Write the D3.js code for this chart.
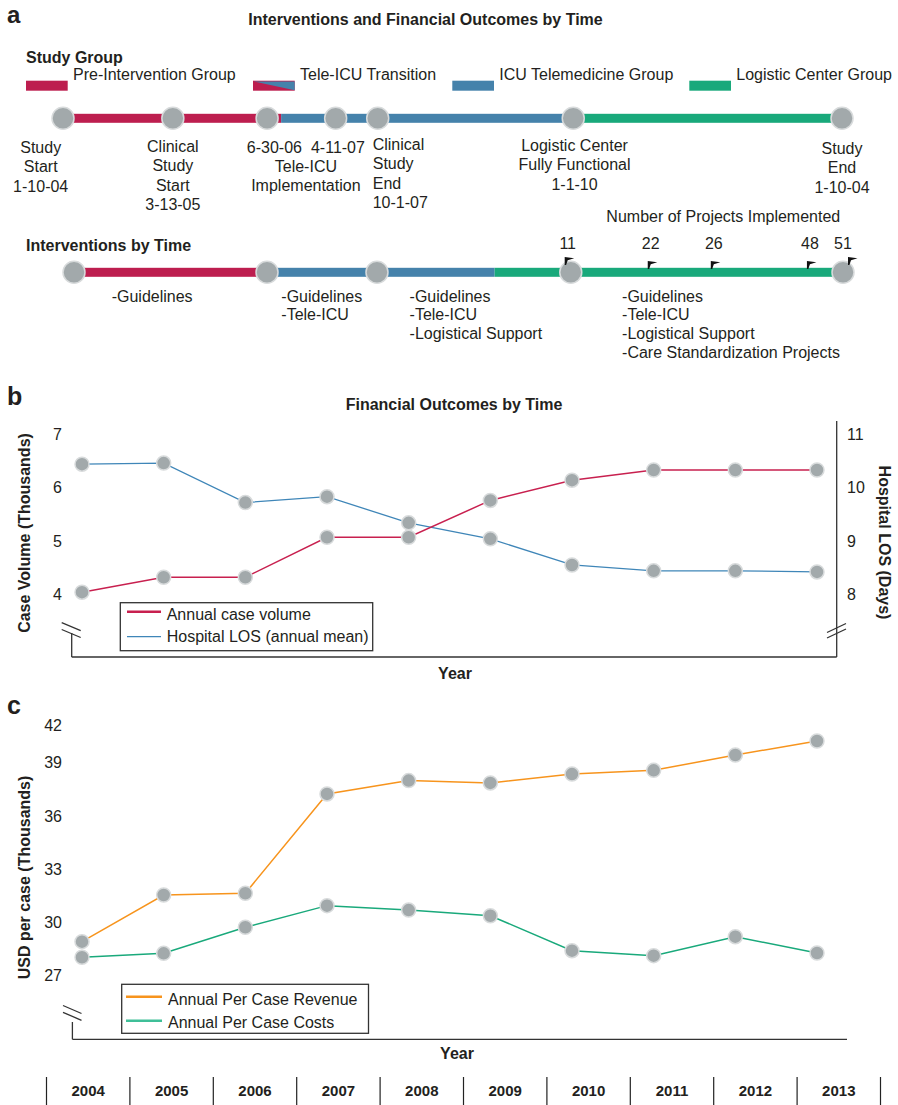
<!DOCTYPE html>
<html><head><meta charset="utf-8">
<script src="https://cdn.jsdelivr.net/npm/d3@7"></script>
<style>
body{margin:0;background:#fff}
svg{display:block;font-family:"Liberation Sans",Arial,Helvetica,sans-serif}
</style></head><body>
<svg id="chart" width="898" height="1105"></svg>
<script>
// ---------------- DATA ----------------
const years = [2004, 2005, 2006, 2007, 2008, 2009, 2010, 2011, 2012, 2013];
const caseVolume = [4.04, 4.32, 4.32, 5.07, 5.07, 5.76, 6.14, 6.33, 6.33, 6.33];   // thousands
const hospitalLOS = [10.44, 10.46, 9.72, 9.83, 9.34, 9.04, 8.55, 8.44, 8.44, 8.42]; // days
const revenue = [28.91, 31.54, 31.64, 37.24, 37.99, 37.86, 38.36, 38.57, 39.61, 40.73]; // USD thousands
const costs = [28.03, 28.25, 29.72, 30.94, 30.69, 30.37, 28.40, 28.12, 29.19, 28.27];
const caseTicks = [4, 5, 6, 7];
const losTicks = [8, 9, 10, 11];
const usdTicks = [27, 30, 33, 36, 39, 42];

const groups = ["Pre-Intervention Group", "Tele-ICU Transition", "ICU Telemedicine Group", "Logistic Center Group"];
// schematic position along the study timeline (0 = start, 100 = end)
const milestonePos = [0, 14.1, 26.2, 35.0, 40.4, 65.5, 100];
const milestoneLabels = [
  ["Study", "Start", "1-10-04"],
  ["Clinical", "Study", "Start", "3-13-05"],
  ["6-30-06"],
  ["4-11-07"],
  ["Clinical", "Study", "End", "10-1-07"],
  ["Logistic Center", "Fully Functional", "1-1-10"],
  ["Study", "End", "1-10-04"]
];
const implementationCaption = ["Tele-ICU", "Implementation"];
const studyPhaseBreaks = [0, 28.0, 65.5, 100];
const studyPhaseGroup = [0, 2, 3];

const interventionNodes = [0, 25.1, 39.4, 64.6, 100];
const interventionPhaseBreaks = [0, 25.1, 54.7, 100];
const interventionPhaseGroup = [0, 2, 3];
const interventionLists = [
  ["-Guidelines"],
  ["-Guidelines", "-Tele-ICU"],
  ["-Guidelines", "-Tele-ICU", "-Logistical Support"],
  ["-Guidelines", "-Tele-ICU", "-Logistical Support", "-Care Standardization Projects"]
];
const projectCounts = [11, 22, 26, 48, 51];
const projectPos = [64.2, 75.0, 83.2, 95.7, 100];

// ---------------- STYLE ----------------
const ink = "#231f20";
const RED = "#bd1e4f", BLUE = "#4582ab", GREEN = "#19a97b", ORANGE = "#f7941d";
const LINE_RED = "#c8204f", LINE_BLUE = "#3f86b8";
const groupColors = [RED, null, BLUE, GREEN];
const DOT = "#a2a9ab", DOT_STROKE = "#d8dbdc";

const svg = d3.select("#chart");
function txt(g, x, y, s, o = {}) {
  return g.append("text").attr("x", x).attr("y", y).text(s)
    .attr("font-size", o.size || 16)
    .attr("font-weight", o.bold ? "bold" : "normal")
    .attr("text-anchor", o.anchor || "start")
    .attr("fill", ink);
}

// ================= PANEL A =================
const A = svg.append("g");
txt(A, 7, 23, "a", {size: 24, bold: true});
txt(A, 425.5, 24.5, "Interventions and Financial Outcomes by Time", {bold: true, anchor: "middle"});
txt(A, 26, 63, "Study Group", {bold: true});

// legend
const legX = [26, 253, 452.3, 689.3];
groups.forEach((gname, i) => {
  const x = legX[i];
  if (i === 1) {
    A.append("rect").attr("x", x).attr("y", 80.7).attr("width", 41.7).attr("height", 10).attr("fill", RED);
    A.append("polygon").attr("points", `${x + 1},81.5 ${x + 41.7},81.5 ${x + 41.7},90.2`).attr("fill", BLUE);
  } else {
    A.append("rect").attr("x", x).attr("y", 80.7).attr("width", 41.7).attr("height", 10).attr("fill", groupColors[i]);
  }
  txt(A, x + 47, 79.8, gname);
});

// timeline 1
const xT1 = d3.scaleLinear().domain([0, 100]).range([63, 842]);
const T1Y = 118.3, BAR_H = 9, R_A = 11;
studyPhaseGroup.forEach((g, i) => {
  A.append("rect").attr("x", xT1(studyPhaseBreaks[i])).attr("y", T1Y - BAR_H / 2)
    .attr("width", xT1(studyPhaseBreaks[i + 1]) - xT1(studyPhaseBreaks[i])).attr("height", BAR_H)
    .attr("fill", groupColors[g]);
});
A.selectAll("circle.m1").data(milestonePos).join("circle")
  .attr("cx", d => xT1(d)).attr("cy", T1Y).attr("r", R_A)
  .attr("fill", DOT).attr("stroke", DOT_STROKE).attr("stroke-width", 1.5);

const msLayout = [
  {dx: -22.3, y: 153, a: "middle"},
  {dx: 0, y: 152, a: "middle"},
  {dx: 7.3, y: 153, a: "middle"},
  {dx: 2.3, y: 153, a: "middle"},
  {dx: -5, y: 150, a: "start"},
  {dx: 1.3, y: 151, a: "middle"},
  {dx: 0, y: 154, a: "middle"}
];
const LH = 19.3;
milestoneLabels.forEach((lines, i) => {
  const L = msLayout[i];
  lines.forEach((s, j) => txt(A, xT1(milestonePos[i]) + L.dx, L.y + j * LH, s, {anchor: L.a}));
});
implementationCaption.forEach((s, j) =>
  txt(A, (xT1(milestonePos[2]) + xT1(milestonePos[3])) / 2 + 4.5, 171.8 + j * LH, s, {anchor: "middle"}));

// timeline 2
txt(A, 26, 251, "Interventions by Time", {bold: true});
const xT2 = d3.scaleLinear().domain([0, 100]).range([74, 843]);
const T2Y = 272.3;
interventionPhaseGroup.forEach((g, i) => {
  A.append("rect").attr("x", xT2(interventionPhaseBreaks[i])).attr("y", T2Y - BAR_H / 2)
    .attr("width", xT2(interventionPhaseBreaks[i + 1]) - xT2(interventionPhaseBreaks[i])).attr("height", BAR_H)
    .attr("fill", groupColors[g]);
});
A.selectAll("circle.m2").data(interventionNodes).join("circle")
  .attr("cx", d => xT2(d)).attr("cy", T2Y).attr("r", R_A)
  .attr("fill", DOT).attr("stroke", DOT_STROKE).attr("stroke-width", 1.5);

const intDx = [37.7, 14.3, 32.6, 51.3];
interventionLists.forEach((lines, i) => {
  lines.forEach((s, j) => txt(A, xT2(interventionNodes[i]) + intDx[i], 301.5 + j * 18.8, s));
});

txt(A, 723.3, 221.5, "Number of Projects Implemented", {anchor: "middle"});
projectCounts.forEach((n, i) => {
  const x = xT2(projectPos[i]);
  txt(A, x, 249, String(n), {anchor: "middle"});
  const nearNode = interventionNodes.some(p => Math.abs(xT2(p) - x) < 12);
  const fy = nearNode ? 257 : 261;
  const fx = x - 3 + (i === projectCounts.length - 1 ? 8 : 0);
  A.append("path")
    .attr("d", `M${fx},${fy + 8} L${fx},${fy} L${fx + 9.5},${fy + 1.2} L${fx + 3},${fy + 3.2} L${fx + 1.4},${fy + 8} Z`)
    .attr("fill", "#111");
});

// ================= PANEL B =================
const B = svg.append("g");
txt(B, 7, 405, "b", {size: 25, bold: true});
txt(B, 454, 409.8, "Financial Outcomes by Time", {bold: true, anchor: "middle"});

const x = d3.scalePoint().domain(years).range([82, 817]);
const yCase = d3.scaleLinear().domain([4, 7]).range([594.3, 434.3]);
const yLOS = d3.scaleLinear().domain([8, 11]).range([594.3, 434.3]);

caseTicks.forEach(t => txt(B, 62, yCase(t) + 5.7, String(t), {anchor: "end"}));
losTicks.forEach(t => txt(B, 847, yLOS(t) + 5.7, String(t)));

const axisCol = "#333";
// bottom axis
B.append("line").attr("x1", 71.7).attr("x2", 836.7).attr("y1", 657).attr("y2", 657).attr("stroke", axisCol).attr("stroke-width", 1.3);
B.append("line").attr("x1", 71.7).attr("x2", 71.7).attr("y1", 633).attr("y2", 657).attr("stroke", axisCol).attr("stroke-width", 1.3);
B.append("line").attr("x1", 61.7).attr("x2", 80.7).attr("y1", 622.7).attr("y2", 630.7).attr("stroke", axisCol).attr("stroke-width", 1.3);
B.append("line").attr("x1", 61.7).attr("x2", 80.7).attr("y1", 629.5).attr("y2", 637.5).attr("stroke", axisCol).attr("stroke-width", 1.3);
// right axis
B.append("line").attr("x1", 836.7).attr("x2", 836.7).attr("y1", 421).attr("y2", 657).attr("stroke", axisCol).attr("stroke-width", 1.3);
B.append("line").attr("x1", 827).attr("x2", 846).attr("y1", 632.5).attr("y2", 623.5).attr("stroke", axisCol).attr("stroke-width", 1.3);
B.append("line").attr("x1", 827).attr("x2", 846).attr("y1", 638).attr("y2", 629).attr("stroke", axisCol).attr("stroke-width", 1.3);

txt(B, 0, 0, "Case Volume (Thousands)", {bold: true, anchor: "middle"}).attr("transform", "translate(30,533) rotate(-90)");
txt(B, 0, 0, "Hospital LOS (Days)", {bold: true, anchor: "middle"}).attr("transform", "translate(879,542.5) rotate(90)");
txt(B, 455, 678.5, "Year", {bold: true, anchor: "middle"});

const lineB1 = d3.line().x((d, i) => x(years[i])).y(d => yCase(d));
const lineB2 = d3.line().x((d, i) => x(years[i])).y(d => yLOS(d));
B.append("path").attr("d", lineB2(hospitalLOS)).attr("fill", "none").attr("stroke", LINE_BLUE).attr("stroke-width", 1.3);
B.append("path").attr("d", lineB1(caseVolume)).attr("fill", "none").attr("stroke", LINE_RED).attr("stroke-width", 1.5);
const R_P = 7;
B.selectAll("circle.los").data(hospitalLOS).join("circle")
  .attr("cx", (d, i) => x(years[i])).attr("cy", d => yLOS(d)).attr("r", R_P)
  .attr("fill", DOT).attr("stroke", DOT_STROKE).attr("stroke-width", 1.5);
B.selectAll("circle.cv").data(caseVolume).join("circle")
  .attr("cx", (d, i) => x(years[i])).attr("cy", d => yCase(d)).attr("r", R_P)
  .attr("fill", DOT).attr("stroke", DOT_STROKE).attr("stroke-width", 1.5);

// legend b
B.append("rect").attr("x", 120.3).attr("y", 602.7).attr("width", 252.4).attr("height", 48)
  .attr("fill", "#fff").attr("stroke", axisCol).attr("stroke-width", 1.3);
B.append("line").attr("x1", 127).attr("x2", 161).attr("y1", 611.7).attr("y2", 611.7).attr("stroke", LINE_RED).attr("stroke-width", 2.5);
B.append("line").attr("x1", 127).attr("x2", 161).attr("y1", 636.7).attr("y2", 636.7).attr("stroke", LINE_BLUE).attr("stroke-width", 1.3);
txt(B, 166.7, 620, "Annual case volume");
txt(B, 166.7, 641.5, "Hospital LOS (annual mean)");

// ================= PANEL C =================
const C = svg.append("g");
txt(C, 7, 713.5, "c", {size: 25, bold: true});
const yUSD = d3.scaleLinear().domain([27, 39, 42]).range([975.5, 762.7, 725]);
usdTicks.forEach(t => txt(C, 62, yUSD(t) + 5.7, String(t), {anchor: "end"}));

C.append("line").attr("x1", 72.4).attr("x2", 847).attr("y1", 1039.3).attr("y2", 1039.3).attr("stroke", axisCol).attr("stroke-width", 1.3);
C.append("line").attr("x1", 72.4).attr("x2", 72.4).attr("y1", 1022).attr("y2", 1039.3).attr("stroke", axisCol).attr("stroke-width", 1.3);
C.append("line").attr("x1", 63).attr("x2", 81.5).attr("y1", 1005.5).attr("y2", 1013.5).attr("stroke", axisCol).attr("stroke-width", 1.3);
C.append("line").attr("x1", 63).attr("x2", 81.5).attr("y1", 1012.3).attr("y2", 1020.3).attr("stroke", axisCol).attr("stroke-width", 1.3);

txt(C, 0, 0, "USD per case (Thousands)", {bold: true, anchor: "middle"}).attr("transform", "translate(30,877.5) rotate(-90)");
txt(C, 457, 1059, "Year", {bold: true, anchor: "middle"});

const lineC = d3.line().x((d, i) => x(years[i])).y(d => yUSD(d));
C.append("path").attr("d", lineC(revenue)).attr("fill", "none").attr("stroke", ORANGE).attr("stroke-width", 1.5);
C.append("path").attr("d", lineC(costs)).attr("fill", "none").attr("stroke", GREEN).attr("stroke-width", 1.5);
[revenue, costs].forEach(series => {
  C.append("g").selectAll("circle").data(series).join("circle")
    .attr("cx", (d, i) => x(years[i])).attr("cy", d => yUSD(d)).attr("r", R_P)
    .attr("fill", DOT).attr("stroke", DOT_STROKE).attr("stroke-width", 1.5);
});

// legend c
C.append("rect").attr("x", 121.7).attr("y", 984.3).attr("width", 246.8).attr("height", 49)
  .attr("fill", "#fff").attr("stroke", axisCol).attr("stroke-width", 1.3);
C.append("line").attr("x1", 126).attr("x2", 162).attr("y1", 996.7).attr("y2", 996.7).attr("stroke", ORANGE).attr("stroke-width", 2.5);
C.append("line").attr("x1", 126).attr("x2", 162).attr("y1", 1020.7).attr("y2", 1020.7).attr("stroke", "#3fbf98").attr("stroke-width", 2.5);
txt(C, 168, 1005, "Annual Per Case Revenue");
txt(C, 168, 1027.5, "Annual Per Case Costs");

// ================= YEAR ROW =================
const band = d3.scaleBand().domain(years).range([46.5, 880.5]).padding(0);
const Y = svg.append("g");
const edges = years.map(y => band(y)).concat([band.range()[1]]);
Y.selectAll("line").data(edges).join("line")
  .attr("x1", d => d).attr("x2", d => d).attr("y1", 1077).attr("y2", 1105)
  .attr("stroke", "#222").attr("stroke-width", 1.2);
years.forEach(yr => txt(Y, band(yr) + band.bandwidth() / 2, 1096, String(yr), {bold: true, anchor: "middle", size: 15}));
</script>
</body></html>
